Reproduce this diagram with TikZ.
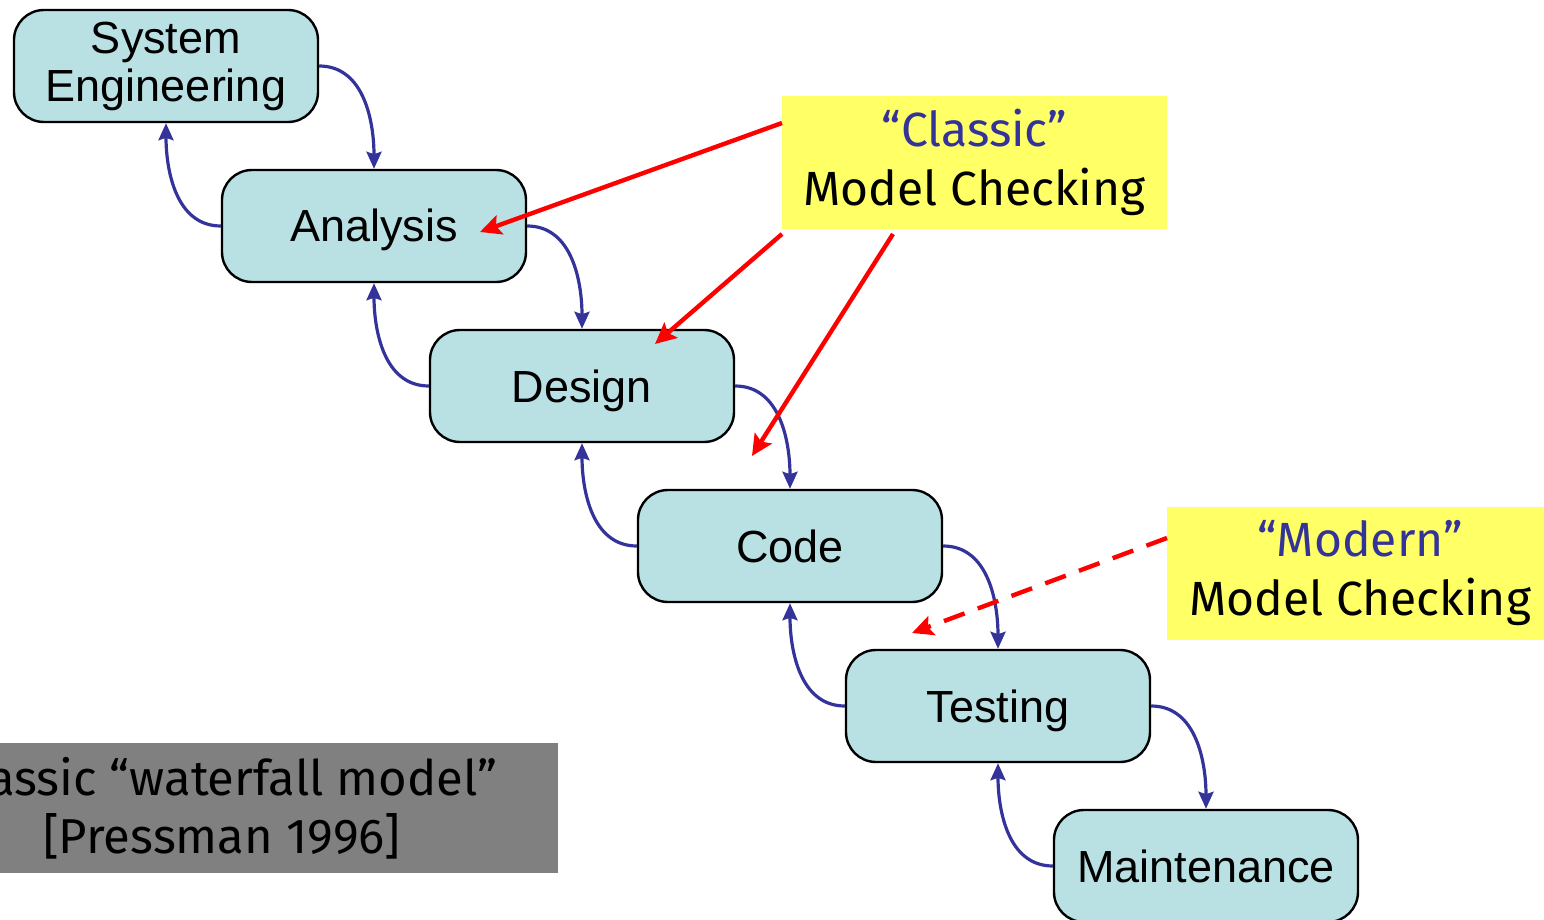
\documentclass[tikz,border=0pt]{standalone}
\usepackage{fontspec}
\setmainfont{Liberation Sans}
\newfontfamily\notefont{Fira Sans}
\usetikzlibrary{arrows.meta}
\definecolor{boxfill}{HTML}{B9E0E3}
\definecolor{flow}{HTML}{333399}
\definecolor{note}{HTML}{FFFF66}
\definecolor{capgray}{HTML}{808080}
\tikzset{
  phase/.style={draw=black, line width=1.2pt, fill=boxfill, rounded corners=15pt,
    minimum width=152pt, minimum height=56pt, align=center, inner sep=0pt,
    font=\fontsize{22.5}{24}\selectfont},
  oneline/.style={text height=16.5pt, text depth=0.5pt},
  flowarrow/.style={draw=flow, line width=1.6pt,
    -{Stealth[length=8.5pt,width=7.5pt,inset=1.2pt]}},
  mcarrow/.style={draw=red, line width=2.2pt,
    -{Stealth[length=10.5pt,width=10pt,inset=2pt]}},
  mcdash/.style={mcarrow, dash pattern=on 11pt off 7pt},
  notebox/.style={fill=note, inner sep=0pt, align=center,
    font=\notefont\fontsize{24}{29.5}\selectfont},
  captionbox/.style={fill=capgray, inner sep=0pt, align=center,
    minimum width=336pt, minimum height=65pt,
    font=\notefont\fontsize{24.5}{29}\selectfont}
}
\begin{document}
\begin{tikzpicture}[x=0.5pt,y=-0.5pt]
\clip (0,0) rectangle (1544,920);
% phases
\node[phase] (se) at (166,66) {System\\Engineering};
\node[phase, oneline] (an) at (374,226) {Analysis};
\node[phase, oneline] (de) at (582,386) {Design};
\node[phase, oneline] (co) at (790,546) {Code};
\node[phase, oneline] (te) at (998,706) {Testing};
\node[phase, oneline] (ma) at (1206,866) {Maintenance};
% forward arrows
\draw[flowarrow] (se.east) to[out=0,in=90] (an.north);
\draw[flowarrow] (an.east) to[out=0,in=90] (de.north);
\draw[flowarrow] (de.east) to[out=0,in=90] (co.north);
\draw[flowarrow] (co.east) to[out=0,in=90] (te.north);
\draw[flowarrow] (te.east) to[out=0,in=90] (ma.north);
% backward arrows
\draw[flowarrow] (an.west) to[out=180,in=-90] (se.south);
\draw[flowarrow] (de.west) to[out=180,in=-90] (an.south);
\draw[flowarrow] (co.west) to[out=180,in=-90] (de.south);
\draw[flowarrow] (te.west) to[out=180,in=-90] (co.south);
\draw[flowarrow] (ma.west) to[out=180,in=-90] (te.south);
% callouts
\node[notebox, minimum width=192.5pt, minimum height=66.5pt] (classic) at (974.5,162.5)
  {\textcolor{flow}{“Classic”}\\Model Checking};
\node[notebox, minimum width=193pt, minimum height=66.5pt] (modern) at (1360,573.5)
  {\textcolor{flow}{“Modern”}\\Model Checking};
\node[captionbox] (cap) at (222,808) {Classic “waterfall model”\\{}[Pressman 1996]};
% red arrows
\coordinate (c1s) at (782,123);
\coordinate (c1e) at (480,232);
\coordinate (c2s) at (782,234);
\coordinate (c2e) at (655,344);
\coordinate (c3s) at (893,234);
\coordinate (c3e) at (752,456);
\coordinate (c4s) at (1167,538);
\coordinate (c4e) at (912,633);
\draw[mcarrow] (c1s) -- (c1e);
\draw[mcarrow] (c2s) -- (c2e);
\draw[mcarrow] (c3s) -- (c3e);
\draw[mcdash] (c4s) -- (c4e);
\end{tikzpicture}
\end{document}
